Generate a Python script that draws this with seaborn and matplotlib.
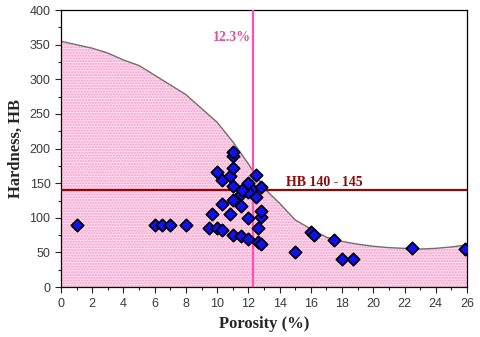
import numpy as np
import pandas as pd
import matplotlib
matplotlib.use('Agg')
import matplotlib.pyplot as plt
from matplotlib.ticker import MultipleLocator
import seaborn as sns

# measured points (porosity %, hardness HB)
porosidad = [1.0, 6.0, 6.5, 7.0, 8.0,
             9.5, 9.7, 10.0, 10.3, 10.3, 10.8, 11.0, 11.5, 12.0, 12.6, 12.8,
             12.6, 12.0, 12.8, 12.8, 11.5, 11.0, 11.55, 12.2, 12.0, 11.6,
             12.5, 11.0, 12.0, 12.8, 12.5, 10.0, 10.3, 10.85, 11.0, 11.0, 11.0,
             15.0, 16.0, 16.2, 17.5, 18.0, 18.7, 22.5, 25.9]
dureza = [90, 90, 90, 90, 90,
          86, 105, 86, 83, 120, 105, 75, 74, 70, 65, 62,
          85, 100, 101, 110, 117, 126, 134, 142, 138, 140,
          130, 146, 151, 145, 162, 166, 155, 160, 172, 189, 195,
          50, 80, 75, 68, 40, 40, 56, 55]

# envelope curve
curva_x = [0, 1, 2, 3, 4, 5, 6, 7, 8, 9, 10, 11, 12, 13,
           14, 15, 16, 17, 18, 19, 20, 21, 22, 23, 24, 25, 26]
curva_y = [355, 350, 345, 338, 328, 320, 306, 292, 278, 258, 238, 210, 178, 143,
           121, 97, 84, 72, 66, 62, 59, 57, 56, 55, 56, 58, 61]

porosidad_critica = 12.3
hb_limite = 140

df = pd.DataFrame({'porosidad': porosidad, 'dureza': dureza})
df_curva = pd.DataFrame({'x': curva_x, 'y': curva_y})

sns.set_style('ticks')
plt.rcParams['font.family'] = ['Liberation Sans', 'DejaVu Sans']

fig = plt.figure(figsize=(4.8, 3.37), dpi=100)
ax = fig.add_axes([0.127, 0.148, 0.846, 0.822])

ax.fill_between(df_curva['x'], 0, df_curva['y'], facecolor='#ffdcee',
                hatch='......', edgecolor='#f59ac8', linewidth=0, zorder=1)
sns.lineplot(data=df_curva, x='x', y='y', color='#707070', linewidth=1.0, ax=ax, zorder=2)

ax.axvline(porosidad_critica, color='#ff4fb4', linewidth=1.6, zorder=3)
ax.axhline(hb_limite, color='#8b0a0a', linewidth=1.6, zorder=3)

sns.scatterplot(data=df, x='porosidad', y='dureza', marker='D', s=40,
                color='#1010f0', edgecolor='black', linewidth=1.2, ax=ax, zorder=4)

ax.text(porosidad_critica - 0.15, 360, '12.3%', color='#e0509a', fontsize=10,
        fontweight='bold', family='Liberation Serif', ha='right', va='center')
ax.text(14.4, hb_limite + 2, 'HB 140 - 145', color='#8b0a0a', fontsize=10,
        fontweight='bold', family='Liberation Serif', ha='left', va='bottom')

ax.set_xlim(0, 26)
ax.set_ylim(0, 400)
ax.xaxis.set_major_locator(MultipleLocator(2))
ax.xaxis.set_minor_locator(MultipleLocator(1))
ax.yaxis.set_major_locator(MultipleLocator(50))
ax.yaxis.set_minor_locator(MultipleLocator(25))
ax.tick_params(which='major', length=4, width=0.8, labelsize=9, labelcolor='#3a3a3a')
ax.tick_params(which='minor', length=2.5, width=0.8)

ax.set_xlabel('Porosity (%)', family='Liberation Serif', fontweight='bold', fontsize=12, labelpad=5)
ax.set_ylabel('Hardness, HB', family='Liberation Serif', fontweight='bold', fontsize=12)

for lado in ['top', 'right', 'left', 'bottom']:
    ax.spines[lado].set_visible(True)
    ax.spines[lado].set_color('black')
    ax.spines[lado].set_linewidth(0.9)

fig.savefig('out.png', dpi=100)
